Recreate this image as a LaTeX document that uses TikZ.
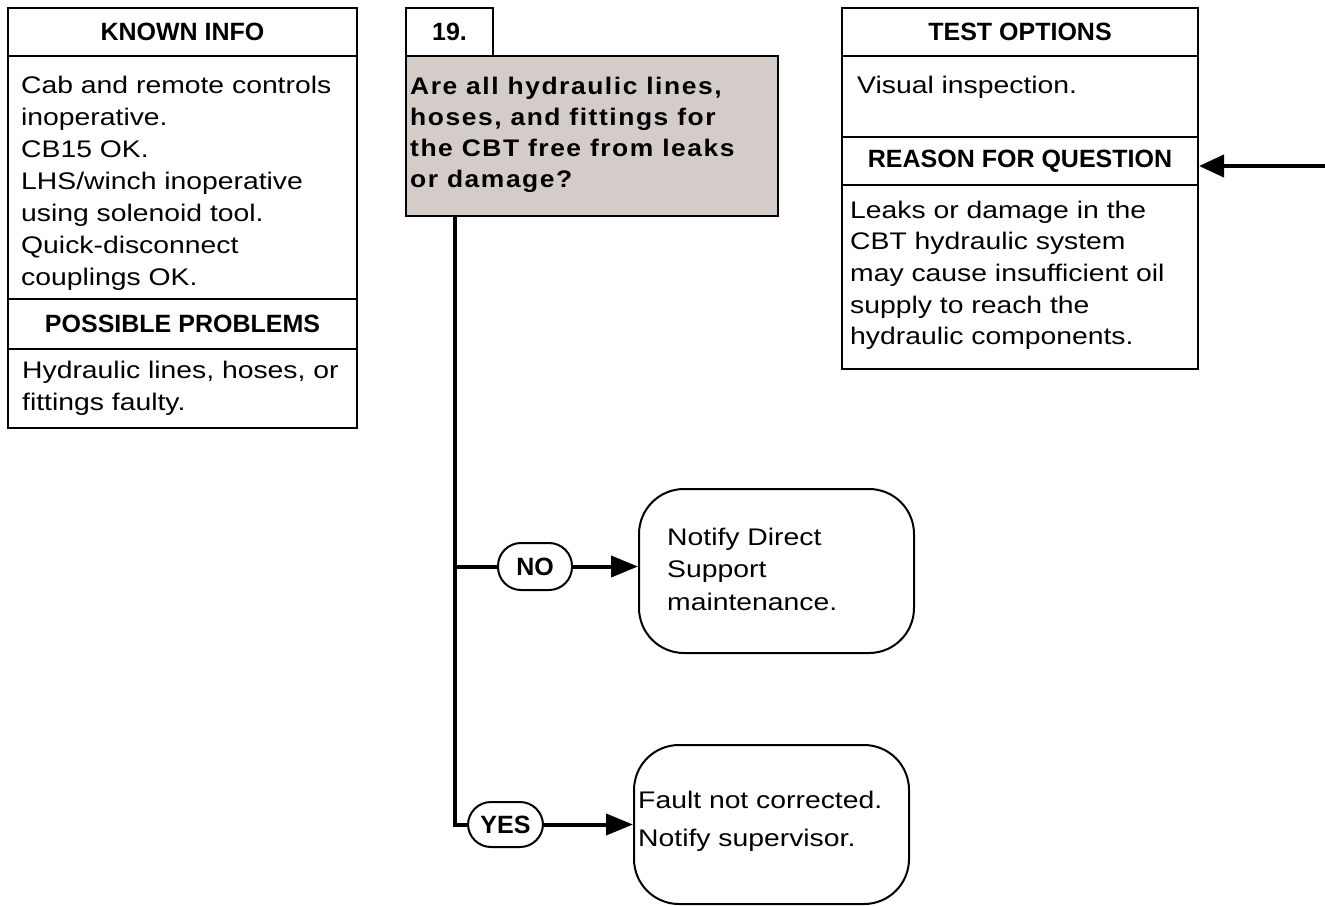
\documentclass[tikz,border=0pt]{standalone}
\usepackage{fontspec}
\setmainfont{Liberation Sans}
\newfontfamily\bodyfont[FakeStretch=1.18]{Liberation Sans}
\newfontfamily\qfont[FakeStretch=1.1,LetterSpace=6.5]{Liberation Sans Bold}
\usetikzlibrary{arrows.meta}
\definecolor{qgray}{RGB}{211,204,201}
\tikzset{
  frame/.style={draw, line width=2pt, anchor=north west, inner sep=0pt},
  hdr/.style={font=\bfseries\fontsize{25}{30}\selectfont},
  body/.style={anchor=north west, inner sep=0pt, align=left,
    font=\bodyfont\fontsize{24}{32}\selectfont},
  qtext/.style={anchor=north west, inner sep=0pt, align=left,
    font=\qfont\fontsize{24}{31}\selectfont},
  pill/.style={draw, line width=2pt, rounded corners=23pt, inner sep=0pt,
    font=\bfseries\fontsize{25}{30}\selectfont},
  endbox/.style={draw, line width=2pt, rounded corners=45pt, anchor=north west, inner sep=0pt},
  flow/.style={line width=4pt},
  arr/.style={line width=4pt, -{Triangle[length=27pt,width=21pt]}},
}
\begin{document}
\begin{tikzpicture}[x=1pt,y=-1pt]
\useasboundingbox (0,0) rectangle (1325,905);
% left column
\node[frame,hdr,minimum width=349,minimum height=48] (kh) at (7,7) {KNOWN INFO};
\node[frame,minimum width=349,minimum height=243] (kb) at (7,55) {};
\node[frame,hdr,minimum width=349,minimum height=50] (ph) at (7,298) {POSSIBLE PROBLEMS};
\node[frame,minimum width=349,minimum height=79] (pb) at (7,348) {};
\node[body] (kt) at (21,75.5) {Cab and remote controls\\inoperative.\\CB15 OK.\\LHS/winch inoperative\\using solenoid tool.\\Quick-disconnect\\couplings OK.};
\node[body] (pt) at (22,360.5) {Hydraulic lines, hoses, or\\fittings faulty.};
% question
\node[frame,hdr,minimum width=87,minimum height=48] (qn) at (405,7) {19.};
\node[frame,fill=qgray,minimum width=372,minimum height=160] (q) at (405,55) {};
\node[qtext] (qt) at (410,77) {Are all hydraulic lines,\\hoses, and fittings for\\the CBT free from leaks\\or damage?};
% right column
\node[frame,hdr,minimum width=356,minimum height=48] (th) at (841,7) {TEST OPTIONS};
\node[frame,minimum width=356,minimum height=81] (tb) at (841,55) {};
\node[frame,hdr,minimum width=356,minimum height=48] (rh) at (841,136) {REASON FOR QUESTION};
\node[frame,minimum width=356,minimum height=184] (rb) at (841,184) {};
\node[body] (tt) at (857,75.5) {Visual inspection.};
\node[body,font=\bodyfont\fontsize{24}{31.7}\selectfont] (rt) at (850,200.5) {Leaks or damage in the\\CBT hydraulic system\\may cause insufficient oil\\supply to reach the\\hydraulic components.};
% branches
\node[pill,minimum width=74,minimum height=47] (no) at (535,566.5) {NO};
\node[pill,minimum width=75,minimum height=45] (yes) at (505.5,824.5) {YES};
\node[endbox,minimum width=275,minimum height=164] (nb) at (638,488) {};
\node[body,font=\bodyfont\fontsize{24}{32.5}\selectfont] (nt) at (667,527.5) {Notify Direct\\Support\\maintenance.};
\node[endbox,minimum width=275,minimum height=159] (yb) at (633,744) {};
\node[body,font=\bodyfont\fontsize{24}{38}\selectfont] (yt) at (638,790.5) {Fault not corrected.\\Notify supervisor.};
% connectors
\coordinate (top) at ([xshift=50pt]q.south west);
\draw[flow] (top) |- (yes.west);
\draw[flow] (top |- no.west) -- (no.west);
\draw[arr] (no.east) -- (no.east -| nb.west);
\draw[arr] (yes.east) -- (yes.east -| yb.west);
\coordinate (rin) at (1325,166);
\draw[line width=4pt, -{Triangle[length=25pt,width=22pt]}] (rin) -- (rin -| rh.east);
\end{tikzpicture}
\end{document}
